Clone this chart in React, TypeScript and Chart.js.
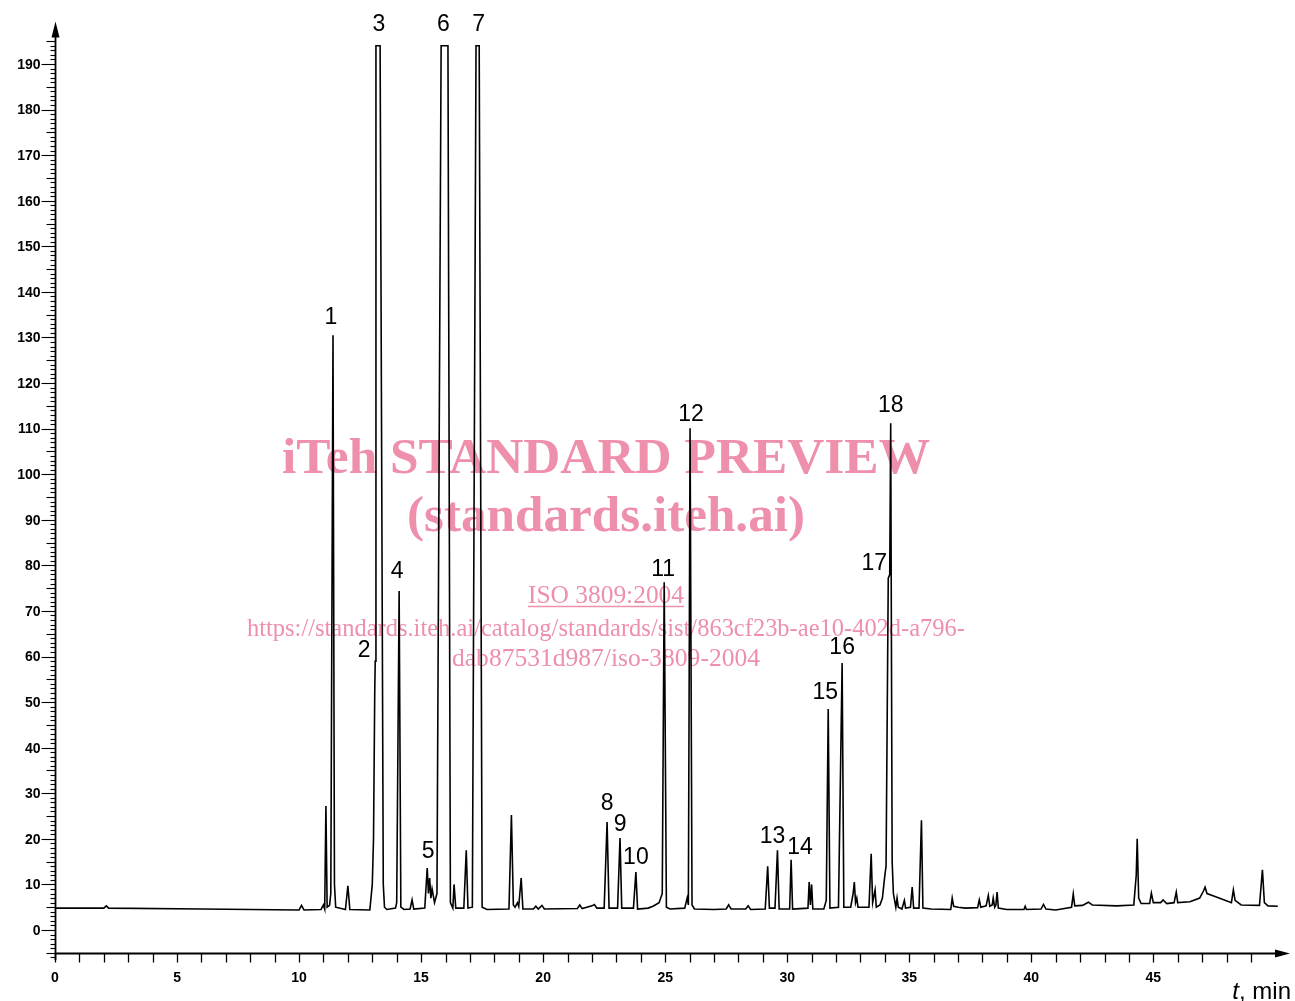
import React, { useEffect, useRef } from "react";
import { Chart, registerables } from "chart.js";

Chart.register(...registerables);

// Chromatogram trace: retention time (min) and detector signal
const traceTime = [
  0, 2.0, 2.1, 2.2, 6.0, 10.0, 10.1, 10.2, 10.9, 11.0, 11.05, 11.1, 11.15, 11.25, 11.3, 11.39, 11.45, 11.5,
  11.9, 12.0, 12.08, 12.9, 13.0, 13.05, 13.1, 13.12, 13.15, 13.32, 13.45, 13.5, 13.6, 13.95, 14.0, 14.1, 14.17,
  14.3, 14.55, 14.63, 14.7, 15.15, 15.25, 15.3, 15.35, 15.4, 15.45, 15.55, 15.65, 15.82, 16.1, 16.2, 16.3,
  16.35, 16.42, 16.75, 16.85, 16.92, 17.1, 17.25, 17.38, 17.5, 17.7, 18.6, 18.7, 18.78, 18.85, 18.95, 19.0,
  19.1, 19.17, 19.6, 19.7, 19.8, 19.95, 20.05, 21.4, 21.5, 21.6, 22.0, 22.1, 22.2, 22.5, 22.62, 22.7, 23.05,
  23.15, 23.22, 23.7, 23.8, 23.87, 24.3, 24.5, 24.75, 24.88, 24.96, 25.05, 25.2, 25.8, 25.9, 25.95, 26.02,
  26.1, 26.2, 27.0, 27.5, 27.6, 27.7, 28.3, 28.4, 28.5, 29.1, 29.2, 29.27, 29.5, 29.6, 29.67, 30.1, 30.16,
  30.22, 30.85, 30.9, 30.95, 31.0, 31.05, 31.5, 31.6, 31.68, 31.75, 32.1, 32.25, 32.32, 32.6, 32.7, 32.75,
  32.8, 32.85, 32.9, 33.35, 33.44, 33.5, 33.6, 33.65, 33.8, 33.9, 34.0, 34.05, 34.14, 34.2, 34.24, 34.3,
  34.35, 34.45, 34.5, 34.55, 34.7, 34.8, 34.85, 35.05, 35.12, 35.18, 35.4, 35.5, 35.56, 35.9, 36.7, 36.76,
  36.82, 37.0, 37.3, 37.8, 37.87, 37.93, 38.15, 38.24, 38.3, 38.4, 38.44, 38.5, 38.55, 38.6, 38.65, 39.0,
  39.7, 39.75, 39.8, 40.4, 40.5, 40.6, 41.0, 41.65, 41.72, 41.78, 42.1, 42.34, 42.5, 43.5, 44.2, 44.3, 44.34,
  44.4, 44.5, 44.85, 44.92, 45.0, 45.3, 45.4, 45.55, 45.85, 45.94, 46.0, 46.5, 46.9, 47.05, 47.12, 47.2,
  47.5, 47.8, 48.2, 48.28, 48.35, 48.6, 49.35, 49.47, 49.55, 49.7, 50.1,
];
const traceSignal = [
  4.8, 4.8, 5.3, 4.8, 4.6, 4.4, 5.4, 4.4, 4.5, 5.5, 4.6, 27.2, 5.0, 5.4, 8, 130.5, 10, 5.0,
  4.5, 9.7, 4.5, 4.4, 10, 20, 52, 59, 194, 194, 10, 5.0, 4.5, 4.8, 6, 74.4, 5,
  4.5, 4.6, 6.6, 4.6, 4.8, 13.6, 8, 11.4, 7, 9, 6, 8, 194, 194, 6, 4.8,
  10, 4.8, 4.8, 17.5, 4.8, 5, 194, 194, 5, 4.5, 4.6, 25.2, 5.5, 5.0, 6, 5.2,
  11.4, 4.6, 4.6, 5.2, 4.6, 5.4, 4.6, 4.7, 5.5, 4.7, 5.3, 5.6, 4.8, 4.8, 23.7, 4.8, 4.8,
  20.2, 4.8, 4.8, 12.7, 4.6, 4.8, 5.2, 6, 8, 76.3, 5, 4.6, 4.8, 7, 5.5, 110.1,
  5.5, 4.6, 4.5, 4.6, 5.5, 4.6, 4.6, 5.3, 4.5, 4.6, 14, 4.8, 4.8, 17.5, 4.6, 4.6, 15.4,
  4.6, 4.8, 10.5, 5.5, 10, 4.6, 4.6, 6.5, 48.5, 4.8, 5, 58.6, 5, 5, 8, 10.5,
  6, 7, 5, 5, 16.7, 6, 8.8, 5, 5.5, 7, 12, 14, 77.2, 78, 111.2, 15,
  8, 5, 7, 5, 4.6, 6.5, 4.8, 5, 9.4, 4.8, 4.8, 24.1, 4.8, 4.6, 4.5, 7,
  5.2, 5.0, 4.8, 4.9, 6.6, 5, 5.3, 7.6, 5.2, 5.5, 7, 5.0, 5.5, 8.3, 4.8, 4.5,
  4.5, 5.2, 4.5, 4.6, 5.6, 4.6, 4.4, 5, 7.9, 5.3, 5.4, 6.1, 5.5, 5.3, 5.5, 12, 20,
  7, 5.8, 5.8, 8.1, 6, 6, 6.6, 5.8, 6, 8.3, 6, 6.2, 7, 8.5, 9.4, 8,
  7.4, 6.8, 6.0, 8.8, 6.5, 5.5, 5.4, 13.2, 6, 5.3, 5.2,
];

// Numbered peaks: number, apex time, apex signal
const peakNumbers = ["1", "2", "3", "4", "5", "6", "7", "8", "9", "10", "11", "12", "13", "14", "15", "16", "17", "18"];
const peakTime = [11.39, 13.12, 13.23, 14.1, 15.25, 16.0, 17.32, 22.62, 23.15, 23.8, 24.96, 26.02, 29.6, 30.16, 31.68, 32.25, 34.14, 34.24];
const peakHeight = [130.5, 59, 194, 74.4, 13.6, 194, 194, 23.7, 20.2, 12.7, 76.3, 110.1, 17.5, 15.4, 48.5, 58.6, 77.2, 111.2];
// label offsets in pixels (style)
const peakLabelOffset = [
  [-2, -18], [-11, -10], [1, -21], [-2, -19], [1, -16], [-2, -21], [1, -21], [0, -18], [0, -13],
  [0, -14], [-1, -13], [1, -14], [-5, -14], [9, -12], [-3, -16], [0, -15], [-14, -14], [0, -17],
];

const yTickLabels = [0, 10, 20, 30, 40, 50, 60, 70, 80, 90, 100, 110, 120, 130, 140, 150, 160, 170, 180, 190];
const xTickLabels = [0, 5, 10, 15, 20, 25, 30, 35, 40, 45];
const xAxisTitle = ", min";
const xAxisSymbol = "t";

const watermarkLines = [
  "iTeh STANDARD PREVIEW",
  "(standards.iteh.ai)",
  "ISO 3809:2004",
  "https://standards.iteh.ai/catalog/standards/sist/863cf23b-ae10-402d-a796-",
  "dab87531d987/iso-3809-2004",
];

const X_MIN = 0, X_MAX = 50.6, Y_MIN = -7, Y_MAX = 199.3;

const drawPlugin = {
  id: "chromAxes",
  beforeDatasetsDraw(chart: any) {
    const ctx = chart.ctx as CanvasRenderingContext2D;
    // [font, centerX, baseline, targetWidth, underline]
    const specs: [string, number, number, number, boolean][] = [
      ['bold 50px "Liberation Serif"', 606, 473, 648, false],
      ['bold 50px "Liberation Serif"', 606, 531, 398, false],
      ['25px "Liberation Serif"', 606, 603, 156, true],
      ['25px "Liberation Serif"', 606, 636, 718, false],
      ['25px "Liberation Serif"', 606, 666, 308, false],
    ];
    ctx.save();
    ctx.fillStyle = "rgb(238,143,172)";
    ctx.strokeStyle = "rgb(238,143,172)";
    watermarkLines.forEach((txt, i) => {
      const [font, cx, by, tw, ul] = specs[i];
      ctx.font = font;
      const w = ctx.measureText(txt).width;
      const sx = tw / w;
      ctx.save();
      ctx.translate(cx, by);
      ctx.scale(sx, 1);
      ctx.textAlign = "center";
      ctx.textBaseline = "alphabetic";
      ctx.fillText(txt, 0, 0);
      ctx.restore();
      if (ul) {
        ctx.lineWidth = 1.3;
        ctx.beginPath();
        ctx.moveTo(cx - tw / 2, by + 3.5);
        ctx.lineTo(cx + tw / 2, by + 3.5);
        ctx.stroke();
      }
    });
    ctx.restore();
  },
  afterDraw(chart: any) {
    const ctx = chart.ctx as CanvasRenderingContext2D;
    const xs = chart.scales.x;
    const ys = chart.scales.y;
    const x0 = Math.round(xs.getPixelForValue(0)) + 0.5;
    ctx.save();
    ctx.strokeStyle = "#000";
    ctx.fillStyle = "#000";

    // Y axis line + arrow
    ctx.lineWidth = 1.8;
    ctx.beginPath();
    ctx.moveTo(x0, ys.getPixelForValue(-6.6));
    ctx.lineTo(x0, ys.getPixelForValue(196));
    ctx.stroke();
    const yTip = ys.getPixelForValue(Y_MAX);
    ctx.beginPath();
    ctx.moveTo(x0, yTip);
    ctx.lineTo(x0 - 4, yTip + 16);
    ctx.lineTo(x0 + 4, yTip + 16);
    ctx.closePath();
    ctx.fill();

    // Y ticks
    ctx.lineWidth = 1.1;
    for (let v = -6; v <= 195; v++) {
      const len = v % 10 === 0 ? 14 : v % 5 === 0 ? 9 : 5;
      const py = Math.round(ys.getPixelForValue(v)) + 0.5;
      ctx.beginPath();
      ctx.moveTo(x0 - len, py);
      ctx.lineTo(x0, py);
      ctx.stroke();
    }
    ctx.font = 'bold 14px "Liberation Sans"';
    ctx.textAlign = "right";
    ctx.textBaseline = "middle";
    yTickLabels.forEach((v) => {
      ctx.fillText(String(v), x0 - 15, ys.getPixelForValue(v) + 1);
    });

    // X axis line at -5 + arrow
    const yb = Math.round(ys.getPixelForValue(-5)) + 0.5;
    const xTip = xs.getPixelForValue(X_MAX);
    ctx.lineWidth = 1.8;
    ctx.beginPath();
    ctx.moveTo(x0, yb);
    ctx.lineTo(xTip - 10, yb);
    ctx.stroke();
    ctx.beginPath();
    ctx.moveTo(xTip, yb);
    ctx.lineTo(xTip - 15, yb - 4);
    ctx.lineTo(xTip - 15, yb + 4);
    ctx.closePath();
    ctx.fill();
    ctx.lineWidth = 1.3;
    for (let t = 0; t <= 49; t++) {
      const px = Math.round(xs.getPixelForValue(t)) + 0.5;
      ctx.beginPath();
      ctx.moveTo(px, yb);
      ctx.lineTo(px, yb + 9);
      ctx.stroke();
    }
    ctx.font = 'bold 14px "Liberation Sans"';
    ctx.textAlign = "center";
    ctx.textBaseline = "middle";
    xTickLabels.forEach((t) => {
      ctx.fillText(String(t), xs.getPixelForValue(t), yb + 25);
    });

    // axis title "t, min"
    ctx.textBaseline = "alphabetic";
    ctx.textAlign = "left";
    ctx.font = '24px "Liberation Sans"';
    const restW = ctx.measureText(xAxisTitle).width;
    ctx.font = 'italic 24px "Liberation Sans"';
    const tW = ctx.measureText(xAxisSymbol).width;
    const right = xTip + 1;
    const startX = right - restW - tW;
    ctx.fillText(xAxisSymbol, startX, 999);
    ctx.font = '24px "Liberation Sans"';
    ctx.fillText(xAxisTitle, startX + tW, 999);

    // peak labels
    ctx.font = '23px "Liberation Sans"';
    ctx.textAlign = "center";
    ctx.textBaseline = "middle";
    peakNumbers.forEach((n, i) => {
      const px = xs.getPixelForValue(peakTime[i]) + peakLabelOffset[i][0];
      const py = ys.getPixelForValue(peakHeight[i]) + peakLabelOffset[i][1];
      ctx.fillText(n, px, py);
    });
    ctx.restore();
  },
};

export default function App() {
  const ref = useRef<HTMLCanvasElement | null>(null);
  useEffect(() => {
    if (!ref.current) return;
    const W = 1295, H = 1001;
    // pixel frame: x 0 -> 55px, 50.6 -> 1290px ; y 0 -> 930px, 10 units = 45.58px
    const pxPerUnit = 4.558;
    const padTop = 930 - Y_MAX * pxPerUnit;
    const padBottom = H - (930 - Y_MIN * pxPerUnit);
    const chart = new Chart(ref.current, {
      type: "line",
      data: {
        datasets: [
          {
            data: traceTime.map((t, i) => ({ x: t, y: traceSignal[i] })),
            borderColor: "#000",
            borderWidth: 1.6,
            pointRadius: 0,
            tension: 0,
            fill: false,
            clip: false as any,
          },
        ],
      },
      options: {
        responsive: false,
        animation: false,
        devicePixelRatio: 1,
        layout: { padding: { left: 55, right: W - 1290, top: padTop, bottom: padBottom } },
        plugins: { legend: { display: false }, tooltip: { enabled: false } },
        scales: {
          x: { type: "linear", min: X_MIN, max: X_MAX, display: false },
          y: { type: "linear", min: Y_MIN, max: Y_MAX, display: false },
        },
      },
      plugins: [drawPlugin as any],
    });
    return () => chart.destroy();
  }, []);
  return (
    <div style={{ position: "fixed", left: 0, top: 0, width: 1295, height: 1001, background: "#fff" }}>
      <canvas ref={ref} width={1295} height={1001} style={{ width: 1295, height: 1001, display: "block" }} />
    </div>
  );
}
